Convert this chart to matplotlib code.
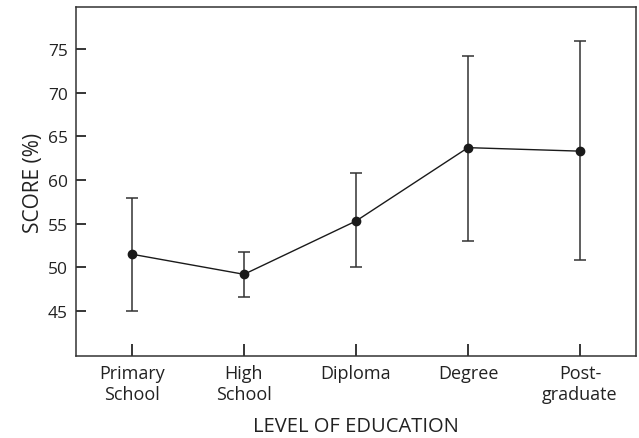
import numpy as np
import matplotlib.pyplot as plt

# datos
niveles = ["Primary\nSchool", "High\nSchool", "Diploma", "Degree", "Post-\ngraduate"]
media = [51.5, 49.2, 55.3, 63.7, 63.3]
superior = [57.9, 51.7, 60.8, 74.2, 75.9]
inferior = [45.0, 46.6, 50.0, 53.0, 50.8]

plt.rcParams['font.family'] = ['Open Sans', 'DejaVu Sans']

x = np.arange(len(niveles))
media = np.array(media)
err = [media - np.array(inferior), np.array(superior) - media]

fig = plt.figure(figsize=(6.39, 4.39), dpi=100)
ax = fig.add_axes([76/639, 1 - 357/439, 560/639, 349/439])

ax.errorbar(x, media, yerr=err, fmt='o-', color='#1a1a1a', ecolor='#333333',
            elinewidth=1.1, capsize=4.3, capthick=1.1, lw=1.0, markersize=6)

ax.set_xlim(-0.5, 4.5)
ax.set_ylim(39.85, 79.8)
ax.set_yticks([45, 50, 55, 60, 65, 70, 75])
ax.set_xticks(x)
ax.set_xticklabels(niveles, fontsize=13, color='#222222')
ax.tick_params(axis='y', direction='in', length=7, width=1.1, labelsize=12.5,
               labelcolor='#222222', pad=6)
ax.tick_params(axis='x', direction='in', length=9, width=1.1, pad=6)
for s in ax.spines.values():
    s.set_linewidth(1.1)
    s.set_color('#333333')

ax.set_xlabel("LEVEL OF EDUCATION", fontsize=14.5, color='#222222', labelpad=9)
ax.set_ylabel("SCORE (%)", fontsize=15, color='#222222', labelpad=3)

fig.savefig("out.png", dpi=100)
